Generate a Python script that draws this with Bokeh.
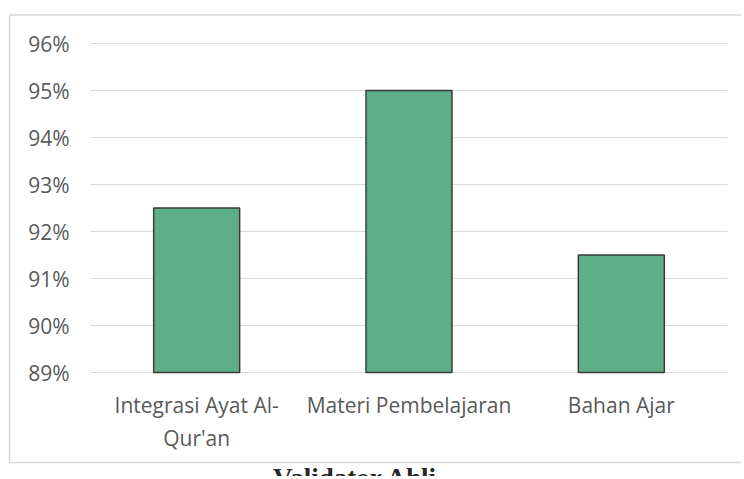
from bokeh.plotting import figure
from bokeh.models import (Range1d, FixedTicker, NumeralTickFormatter, LinearAxis,
                          ColumnDataSource, Label)
from bokeh.embed import file_html
from bokeh.resources import INLINE

categories = ["Integrasi Ayat Al-Qur'an", "Materi Pembelajaran", "Bahan Ajar"]
category_labels = ["Integrasi Ayat Al-\nQur'an", "Materi Pembelajaran", "Bahan Ajar"]
values = [0.925, 0.95, 0.915]
y_ticks = [0.89, 0.90, 0.91, 0.92, 0.93, 0.94, 0.95, 0.96]
axis_title = "Validator Ahli"

# ---- layout geometry (pixels, relative to the frame) ----
W, H = 741, 476
FL, FT = 9, 13
frame_w, frame_h = W - FL, H - FT
area_left, area_right = 81, 718
area_top, area_bottom = 30, 359
border_top, border_bottom = 1.5, 449
y_lo, y_hi = y_ticks[0], y_ticks[-1]
ppu = (area_bottom - area_top) / (y_hi - y_lo)
cat_w = (area_right - area_left) / len(categories)
x_start = -area_left / cat_w
x_end = len(categories) + (frame_w - area_right) / cat_w
y_end = y_hi + area_top / ppu
y_start = y_lo - (frame_h - area_bottom) / ppu
y_border_bot = y_lo - (border_bottom - area_bottom) / ppu
y_border_top = y_hi + (area_top - border_top) / ppu

p = figure(width=W, height=H, output_backend="svg", toolbar_location=None,
           x_range=Range1d(x_start, x_end), y_range=Range1d(y_start, y_end),
           x_axis_location=None, y_axis_location=None,
           min_border_left=FL, min_border_right=0, min_border_top=FT, min_border_bottom=0)
p.outline_line_color = None
p.background_fill_color = "white"
p.border_fill_color = "white"
p.xgrid.visible = False
p.ygrid.visible = False

xs = [i + 0.5 for i in range(len(categories))]
GRID = "#d9d9d9"
p.segment(x0=0, x1=len(categories), y0=y_ticks, y1=y_ticks, line_color=GRID, line_width=1.2)

# top and bottom border lines of the chart box
p.segment(x0=[x_start, x_start], x1=[x_end + 1, x_end + 1],
          y0=[y_border_top, y_border_bot], y1=[y_border_top, y_border_bot],
          line_color="#d7d7d7", line_width=1.5)

src = ColumnDataSource(dict(x=xs, cat=categories, val=values))
p.vbar(x="x", top="val", bottom=y_lo, width=0.405, source=src,
       fill_color="#5EAF88", line_color="#3a3a3a", line_width=1.5)

# left axis: left border line + tick labels drawn inward
yax = LinearAxis(ticker=FixedTicker(ticks=y_ticks), formatter=NumeralTickFormatter(format="0%"),
                 bounds=(y_border_bot, y_border_top), axis_line_color="#d8d8d8", axis_line_width=1.5,
                 major_tick_line_color=None, minor_tick_line_color=None,
                 major_tick_out=0, major_tick_in=0, major_label_standoff=-(area_left - 21),
                 major_label_text_font="Open Sans", major_label_text_font_size="21px",
                 major_label_text_color="#595959")
p.add_layout(yax, "left")

# bottom axis: category labels drawn inward
xax = LinearAxis(ticker=FixedTicker(ticks=xs),
                 major_label_overrides={x: t for x, t in zip(xs, category_labels)},
                 axis_line_color=None, major_tick_line_color=None, minor_tick_line_color=None,
                 major_tick_out=0, major_tick_in=0, major_label_standoff=-(frame_h - area_bottom - 18),
                 major_label_text_font="Open Sans", major_label_text_font_size="21px",
                 major_label_text_color="#595959")
p.add_layout(xax, "below")

p.add_layout(Label(x=346, y=-1, x_units="screen", y_units="screen", text=axis_title,
                   text_font="Liberation Serif", text_font_style="bold",
                   text_font_size="27px", text_color="#262626",
                   text_align="center", text_baseline="alphabetic"))

open("out.html", "w").write(file_html(p, INLINE))
